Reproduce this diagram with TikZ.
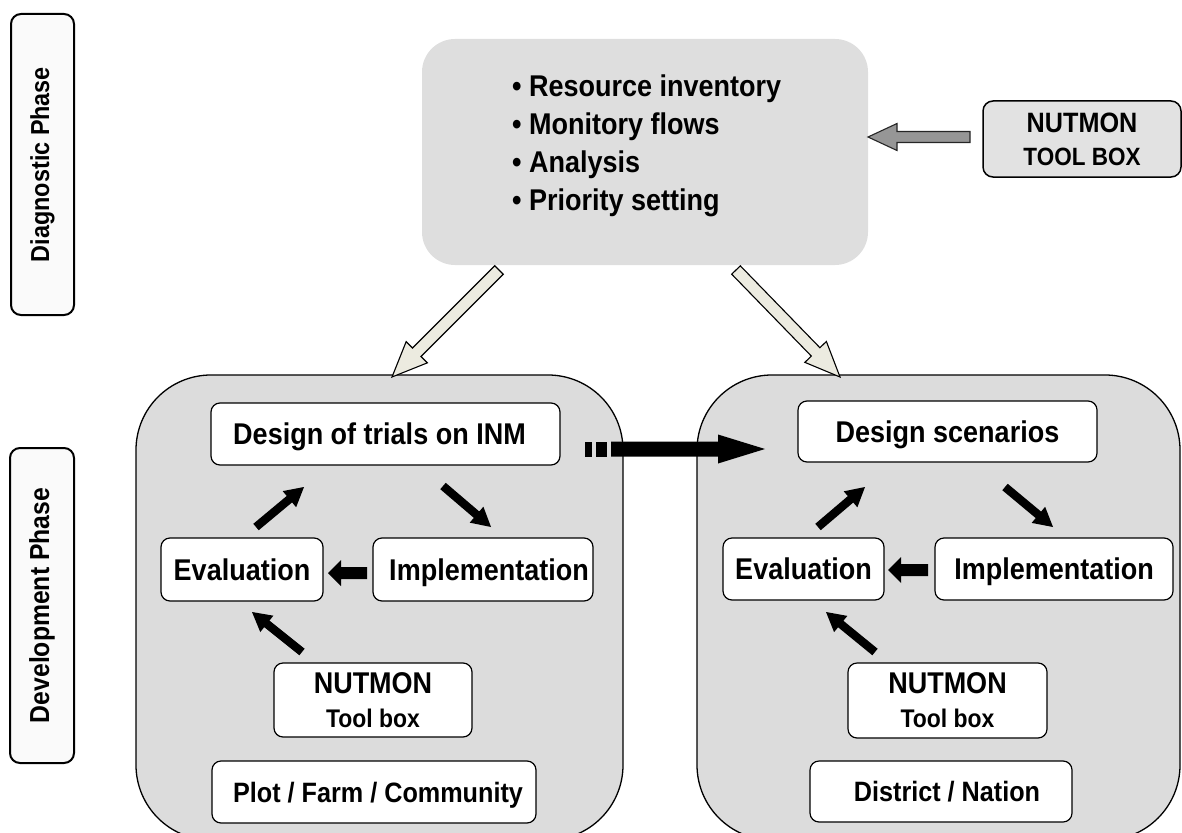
\documentclass[tikz,border=0pt]{standalone}
\usepackage{fontspec}
\setmainfont{Liberation Sans}[FakeStretch=0.9]
\usetikzlibrary{calc}

\definecolor{panelgray}{RGB}{220,220,220}
\definecolor{topgray}{RGB}{222,222,222}
\definecolor{toolgray}{RGB}{226,226,226}
\definecolor{beige}{RGB}{236,235,224}
\definecolor{arrowgray}{RGB}{150,150,150}
\definecolor{phasefill}{RGB}{250,250,250}

\newcommand{\fsz}[1]{\fontsize{#1}{#1}\selectfont}

% block arrow: #1 style, #2 start, #3 tip, #4 half shaft width, #5 half head width, #6 head length
\newcommand{\blockarrow}[6]{%
  \coordinate (ba-h) at ($(#3)!#6!(#2)$);
  \path[#1] ($(#2)!#4!90:(#3)$) -- ($(ba-h)!#4!-90:(#2)$) -- ($(ba-h)!#5!-90:(#2)$)
    -- (#3) -- ($(ba-h)!#5!90:(#2)$) -- ($(ba-h)!#4!90:(#2)$) -- ($(#2)!#4!-90:(#3)$) -- cycle;
}

\begin{document}
\begin{tikzpicture}[x=1pt,y=-1pt,
  phasebox/.style={draw=black, line width=2pt, fill=phasefill, rounded corners=10pt,
    rotate=90, inner sep=0pt, font=\bfseries},
  panel/.style={draw=black, line width=1.3pt, fill=panelgray, rounded corners=75pt, inner sep=0pt},
  wbox/.style={draw=black, line width=1.2pt, fill=white, rounded corners=9pt, inner sep=0pt,
    font=\bfseries\fsz{30}},
  onebox/.style={wbox, text height=21.5pt, text depth=0pt},
  smallbox/.style={wbox, font=\bfseries\fsz{28}, text height=20pt, text depth=0pt},
  listitem/.style={anchor=base west, inner sep=0pt, font=\bfseries\fsz{30}},
  blackarrow/.style={fill=black},
  beigearrow/.style={fill=beige, draw=black, line width=1.1pt, line join=miter},
  grayarrow/.style={fill=arrowgray, draw=black!85, line width=1.1pt, line join=miter}
]
\useasboundingbox (0,0) rectangle (1182,832);

% phase labels
\node[phasebox, minimum width=301pt, minimum height=63pt] (diag) at (42.5,164.5)
  {\fsz{26}Diagnostic Phase};
\node[phasebox, minimum width=315pt, minimum height=64pt] (devel) at (42,605.5)
  {\fsz{27.5}Development Phase};

% diagnostic phase
\node[fill=topgray, rounded corners=33pt, minimum width=446pt, minimum height=226pt, inner sep=0pt]
  (diagbox) at (645,152) {};
\node[listitem] (item1) at (512,97) {\textbullet\ Resource inventory};
\node[listitem] (item2) at (512,134) {\textbullet\ Monitory flows};
\node[listitem] (item3) at (512,172) {\textbullet\ Analysis};
\node[listitem] (item4) at (512,210) {\textbullet\ Priority setting};

\node[draw=black, line width=1.5pt, fill=toolgray, rounded corners=10pt, inner sep=0pt,
  minimum width=198pt, minimum height=76pt, align=center, font=\bfseries\fontsize{28}{33}\selectfont]
  (toolbox) at (1082,139) {NUTMON\\{\fontsize{25}{33}\selectfont TOOL BOX}};

% development phase panels
\node[panel, minimum width=487pt, minimum height=465pt] (leftpanel) at (379.5,607.5) {};
\node[panel, minimum width=483pt, minimum height=465pt] (rightpanel) at (938.5,607.5) {};

% plot / farm / community cycle
\node[onebox, minimum width=349pt, minimum height=62pt] (design1) at (385.5,434)
  {Design of trials on INM\hspace*{12pt}};
\node[onebox, minimum width=162pt, minimum height=63pt] (eval1) at (242,569.5) {Evaluation};
\node[onebox, minimum width=220pt, minimum height=63pt] (impl1) at (483,569.5)
  {\hspace*{12pt}Implementation};
\node[wbox, minimum width=198pt, minimum height=74pt, align=center, font=\bfseries\fontsize{30}{34}\selectfont]
  (nut1) at (373,700) {NUTMON\\{\fontsize{25.5}{34}\selectfont Tool box}};
\node[smallbox, minimum width=324pt, minimum height=62pt] (plot) at (374,792)
  {\hspace*{8pt}Plot / Farm / Community};

% district / nation cycle
\node[onebox, minimum width=299pt, minimum height=61pt] (design2) at (947.5,431.5) {Design scenarios};
\node[onebox, minimum width=161pt, minimum height=62pt] (eval2) at (803.5,569) {Evaluation};
\node[onebox, minimum width=238pt, minimum height=62pt] (impl2) at (1054,569) {Implementation};
\node[wbox, minimum width=199pt, minimum height=75pt, align=center, font=\bfseries\fontsize{30}{34}\selectfont]
  (nut2) at (947.5,700.5) {NUTMON\\{\fontsize{25.5}{34}\selectfont Tool box}};
\node[smallbox, minimum width=262pt, minimum height=61pt] (district) at (941,791.5)
  {\hspace*{12pt}District / Nation};

% arrow end points
\coordinate (tb-s) at (970,137);   \coordinate (tb-e) at (868,137);
\coordinate (dl-s) at (499,270);   \coordinate (dl-e) at (392,377);
\coordinate (dr-s) at (736,270);   \coordinate (dr-e) at (840,377);
\coordinate (a1-s) at (256,527);   \coordinate (a1-e) at (304,487);
\coordinate (a2-s) at (443,486);   \coordinate (a2-e) at (491,527);
\coordinate (a3-s) at (367,573);   \coordinate (a3-e) at (328,573);
\coordinate (a4-s) at (302,652);   \coordinate (a4-e) at (252,612);
\coordinate (b1-s) at (818,527);   \coordinate (b1-e) at (865,487);
\coordinate (b2-s) at (1005,487);  \coordinate (b2-e) at (1053,527);
\coordinate (b3-s) at (928,570);   \coordinate (b3-e) at (888,570);
\coordinate (b4-s) at (875,652);   \coordinate (b4-e) at (826,612);
\coordinate (lk-s) at (611,449);   \coordinate (lk-e) at (765,449);

% toolbox feeds the diagnosis
\blockarrow{grayarrow}{tb-s}{tb-e}{5.5pt}{13.5pt}{29pt}

% diagnosis leads to both development levels
\blockarrow{beigearrow}{dl-s}{dl-e}{6pt}{15pt}{35pt}
\blockarrow{beigearrow}{dr-s}{dr-e}{6pt}{15pt}{35pt}

% cycle arrows, left
\blockarrow{blackarrow}{a1-s}{a1-e}{4.2pt}{10.5pt}{19pt}
\blockarrow{blackarrow}{a2-s}{a2-e}{4.2pt}{10.5pt}{19pt}
\blockarrow{blackarrow}{a3-s}{a3-e}{6pt}{13pt}{13pt}
\blockarrow{blackarrow}{a4-s}{a4-e}{4.2pt}{10.5pt}{19pt}

% cycle arrows, right
\blockarrow{blackarrow}{b1-s}{b1-e}{4.2pt}{10.5pt}{19pt}
\blockarrow{blackarrow}{b2-s}{b2-e}{4.2pt}{10.5pt}{19pt}
\blockarrow{blackarrow}{b3-s}{b3-e}{6pt}{13pt}{13pt}
\blockarrow{blackarrow}{b4-s}{b4-e}{4.2pt}{10.5pt}{19pt}

% link between the two levels, with its dashed tail
\fill[black] ($(lk-s)+(-26,-7.5)$) rectangle ($(lk-s)+(-19,7.5)$);
\fill[black] ($(lk-s)+(-15,-7.5)$) rectangle ($(lk-s)+(-4,7.5)$);
\blockarrow{blackarrow}{lk-s}{lk-e}{7.5pt}{14.5pt}{47pt}
\end{tikzpicture}
\end{document}
